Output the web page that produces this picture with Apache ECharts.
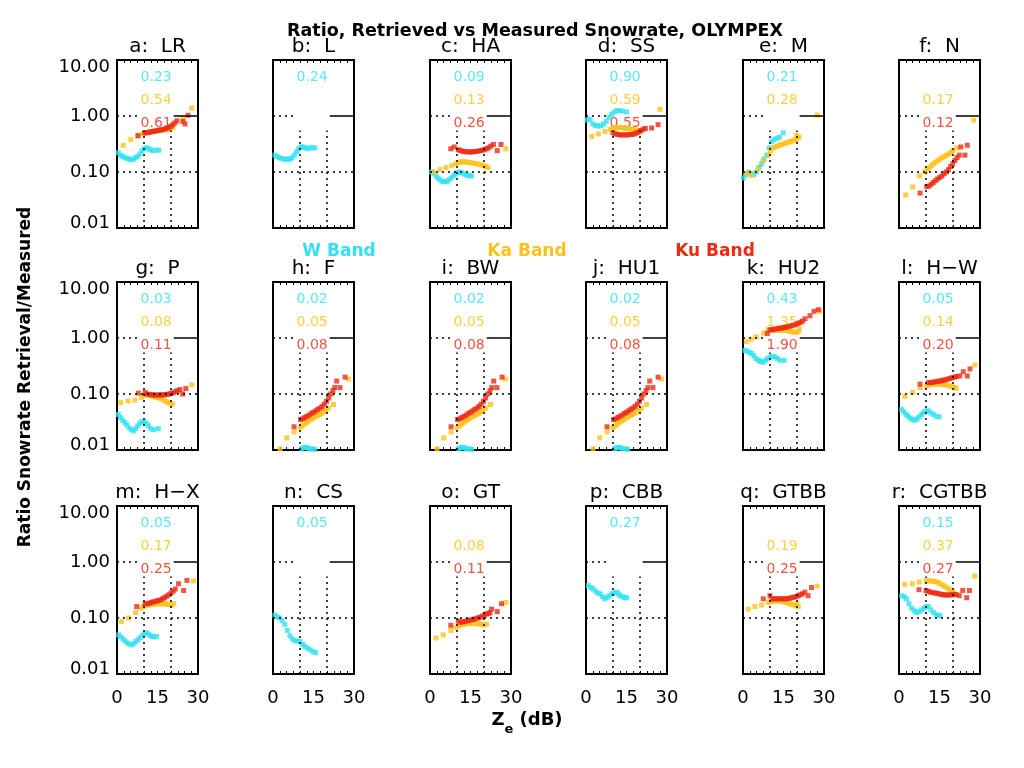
<!DOCTYPE html>
<html><head><meta charset="utf-8">
<script src="https://cdn.jsdelivr.net/npm/echarts@6/dist/echarts.min.js"></script>
<style>html,body{margin:0;padding:0;background:#fff}#c{width:1024px;height:768px}</style>
</head><body><div id="c"></div>
<script>
// ---------- DATA ----------
const panelTitles = ['a:  LR','b:  L','c:  HA','d:  SS','e:  M','f:  N',
  'g:  P','h:  F','i:  BW','j:  HU1','k:  HU2','l:  H\u2212W',
  'm:  H\u2212X','n:  CS','o:  GT','p:  CBB','q:  GTBB','r:  CGTBB'];
const statW  = ['0.23','0.24','0.09','0.90','0.21','',  '0.03','0.02','0.02','0.02','0.43','0.05','0.05','0.05','','0.27','','0.15'];
const statKa = ['0.54','','0.13','0.59','0.28','0.17','0.08','0.05','0.05','0.05','1.35','0.14','0.17','','0.08','','0.19','0.37'];
const statKu = ['0.61','','0.26','0.55','','0.12','0.11','0.08','0.08','0.08','1.90','0.20','0.25','','0.11','','0.25','0.27'];
const yTicks = [0.01, 0.1, 1, 10];
const xTickLabels = [0, 15, 30];

// W band (x = Ze dB, y = ratio)
const W_a = [[0.5,0.22],[1.3,0.2],[2.1,0.19],[2.9,0.18],[3.7,0.175],[4.5,0.17],[5.3,0.165],[6.1,0.17],[6.9,0.18],[7.7,0.19],[8.5,0.21],[9.3,0.24],[10.1,0.26],[10.9,0.27],[11.7,0.26],[12.5,0.25],[13.3,0.24],[14.5,0.245],[15.5,0.245]];
const W_b = [[0.7,0.2],[1.5,0.19],[2.3,0.18],[3.1,0.175],[3.9,0.17],[4.7,0.17],[5.5,0.17],[6.3,0.17],[7.1,0.18],[7.9,0.2],[8.7,0.23],[9.5,0.26],[10.3,0.28],[11.1,0.28],[11.9,0.27],[12.7,0.26],[13.5,0.27],[14.5,0.27],[15.5,0.27]];
const W_c = [[0.6,0.1],[1.4,0.095],[2.2,0.085],[3.0,0.078],[3.8,0.072],[4.6,0.068],[5.4,0.067],[6.2,0.068],[7.0,0.072],[7.8,0.078],[8.6,0.085],[9.4,0.092],[10.2,0.098],[11.0,0.1],[11.8,0.097],[12.6,0.092],[13.6,0.088],[14.5,0.086],[15.4,0.085]];
const W_d = [[0.5,0.85],[1.5,0.87],[2.5,0.72],[3.5,0.68],[4.5,0.66],[5.5,0.67],[6.5,0.72],[7.5,0.8],[8.5,0.95],[9.5,1.07],[10.5,1.18],[11.5,1.25],[12.5,1.25],[13.5,1.22],[15.1,1.18]];
const W_e = [[0.1,0.078],[1.0,0.09],[2.0,0.1],[3.0,0.095],[4.0,0.09],[5.0,0.1],[6.0,0.12],[6.9,0.14],[7.8,0.17],[8.8,0.2],[9.7,0.27],[10.6,0.35],[11.5,0.38],[12.5,0.4],[13.5,0.42],[14.9,0.5]];
const W_g = [[0.5,0.043],[1.3,0.038],[2.1,0.034],[2.9,0.031],[3.7,0.028],[4.5,0.025],[5.3,0.023],[6.1,0.022],[6.9,0.024],[7.7,0.027],[8.5,0.03],[9.3,0.032],[10.1,0.032],[10.9,0.03],[11.7,0.027],[12.5,0.024],[13.5,0.023],[15.3,0.024]];
const W_h = [[10.6,0.0105],[11.3,0.011],[12.0,0.0112],[12.7,0.011],[13.4,0.0105],[14.5,0.0105],[15.5,0.0103]];
const W_i = [[10.6,0.0105],[11.3,0.011],[12.0,0.0112],[12.7,0.011],[13.4,0.0105],[14.5,0.0105],[15.5,0.0103]];
const W_j = [[10.6,0.0105],[11.3,0.011],[12.0,0.0112],[12.7,0.011],[13.4,0.0105],[14.5,0.0105],[15.5,0.0103]];
const W_k = [[0.7,0.6],[1.5,0.58],[2.3,0.55],[3.2,0.53],[4.0,0.48],[4.8,0.43],[5.7,0.4],[6.5,0.38],[7.5,0.37],[8.3,0.4],[9.1,0.43],[10.0,0.46],[10.9,0.47],[11.8,0.46],[12.7,0.43],[13.7,0.4],[15.3,0.4]];
const W_l = [[1.0,0.053],[1.8,0.048],[2.6,0.043],[3.4,0.04],[4.2,0.037],[5.0,0.035],[5.9,0.034],[6.7,0.036],[7.5,0.039],[8.4,0.043],[9.2,0.047],[10.0,0.05],[10.9,0.05],[11.8,0.046],[12.8,0.043],[13.8,0.04],[14.9,0.039]];
const W_m = [[0.6,0.05],[1.4,0.046],[2.2,0.042],[3.0,0.039],[3.8,0.036],[4.6,0.034],[5.4,0.033],[6.2,0.035],[7.0,0.038],[7.8,0.041],[8.6,0.045],[9.6,0.05],[10.4,0.053],[11.2,0.054],[12.0,0.05],[12.8,0.047],[13.6,0.046],[14.6,0.047]];
const W_n = [[0.7,0.113],[1.5,0.105],[2.5,0.1],[3.4,0.09],[4.4,0.077],[5.3,0.06],[6.3,0.048],[7.2,0.042],[8.1,0.039],[9.0,0.039],[10.0,0.038],[10.9,0.034],[11.8,0.031],[12.8,0.029],[13.8,0.027],[14.9,0.025],[15.8,0.024]];
const W_p = [[0.9,0.38],[1.8,0.35],[2.7,0.33],[3.5,0.3],[4.4,0.28],[5.2,0.27],[6.1,0.24],[7.0,0.22],[7.8,0.23],[8.6,0.25],[9.5,0.27],[10.4,0.28],[11.4,0.29],[12.0,0.27],[12.6,0.25],[13.5,0.24],[14.3,0.23],[15.1,0.23]];
const W_r = [[1.0,0.25],[1.9,0.24],[2.8,0.22],[3.7,0.18],[4.7,0.15],[5.6,0.135],[6.5,0.125],[7.4,0.13],[8.4,0.14],[9.3,0.15],[10.1,0.16],[10.9,0.16],[11.8,0.14],[12.8,0.125],[13.8,0.115],[14.5,0.11],[15.3,0.11]];

// Ka band
const Ka_a = [[2.3,0.3],[5.1,0.38],[7.7,0.43],[9.5,0.48],[10.3,0.5],[11.1,0.51],[11.9,0.52],[12.7,0.53],[13.5,0.53],[14.3,0.54],[15.1,0.55],[15.9,0.55],[16.7,0.56],[17.5,0.57],[18.3,0.57],[19.1,0.58],[19.9,0.6],[20.7,0.62],[24.5,0.9],[27.7,1.38]];
const Ka_c = [[1.2,0.1],[3.7,0.11],[5.9,0.12],[8.0,0.13],[9.5,0.14],[10.3,0.145],[11.1,0.15],[11.9,0.152],[12.7,0.152],[13.5,0.15],[14.3,0.148],[15.1,0.146],[15.9,0.144],[16.7,0.142],[17.5,0.14],[18.3,0.137],[19.1,0.133],[19.9,0.13],[20.7,0.125],[21.5,0.12],[28.1,0.26]];
const Ka_d = [[2.1,0.43],[4.6,0.48],[7.0,0.53],[9.0,0.57],[9.8,0.6],[10.6,0.61],[11.4,0.62],[12.2,0.62],[13.0,0.62],[13.8,0.61],[14.6,0.6],[15.4,0.6],[16.2,0.59],[17.0,0.58],[17.8,0.57],[18.6,0.56],[19.4,0.55],[20.2,0.55],[27.4,1.32]];
const Ka_e = [[1.2,0.094],[3.1,0.087],[5.6,0.115],[7.4,0.16],[9.3,0.2],[10.2,0.24],[11.1,0.27],[11.9,0.28],[12.7,0.29],[13.5,0.3],[14.3,0.31],[15.1,0.32],[15.9,0.33],[16.7,0.34],[17.5,0.35],[18.3,0.36],[19.1,0.37],[19.9,0.38],[20.7,0.42],[19.8,0.45],[27.5,1.04]];
const Ka_f = [[2.5,0.039],[5.1,0.054],[7.5,0.085],[9.6,0.1],[10.4,0.11],[11.2,0.12],[12.0,0.13],[12.8,0.14],[13.6,0.15],[14.4,0.16],[15.2,0.17],[16.0,0.18],[16.8,0.19],[17.6,0.2],[18.4,0.21],[19.2,0.22],[19.9,0.24],[21.4,0.27],[27.7,0.84]];
const Ka_g = [[1.4,0.07],[4.1,0.075],[6.6,0.078],[9.1,0.087],[10.0,0.095],[10.8,0.096],[11.6,0.095],[12.4,0.093],[13.2,0.091],[14.0,0.089],[14.8,0.087],[15.6,0.085],[16.4,0.082],[17.2,0.078],[18.0,0.074],[18.8,0.071],[19.6,0.068],[20.5,0.066],[27.7,0.146]];
const Ka_h = [[2.6,0.0105],[5.1,0.0165],[7.8,0.021],[10.0,0.025],[10.8,0.027],[11.6,0.029],[12.4,0.031],[13.2,0.033],[14.0,0.035],[14.8,0.037],[15.6,0.039],[16.4,0.041],[17.2,0.043],[18.0,0.045],[18.8,0.048],[19.6,0.052],[20.5,0.056],[22.4,0.065],[27.9,0.185]];
const Ka_i = [[2.6,0.0105],[5.1,0.0165],[7.8,0.021],[10.0,0.025],[10.8,0.027],[11.6,0.029],[12.4,0.031],[13.2,0.033],[14.0,0.035],[14.8,0.037],[15.6,0.039],[16.4,0.041],[17.2,0.043],[18.0,0.045],[18.8,0.048],[19.6,0.052],[20.5,0.056],[22.4,0.065],[27.9,0.185]];
const Ka_j = [[2.6,0.0105],[5.1,0.0165],[7.8,0.021],[10.0,0.025],[10.8,0.027],[11.6,0.029],[12.4,0.031],[13.2,0.033],[14.0,0.035],[14.8,0.037],[15.6,0.039],[16.4,0.041],[17.2,0.043],[18.0,0.045],[18.8,0.048],[19.6,0.052],[20.5,0.056],[22.4,0.065],[27.9,0.185]];
const Ka_k = [[1.2,0.86],[3.0,0.95],[4.9,1.05],[7.7,1.22],[9.3,1.4],[10.1,1.38],[10.9,1.36],[11.7,1.36],[12.5,1.36],[13.3,1.37],[14.1,1.38],[14.9,1.38],[15.7,1.37],[16.5,1.35],[17.3,1.33],[18.1,1.3],[18.9,1.27],[19.7,1.25],[20.5,1.3],[20.9,1.44],[28.5,3.0]];
const Ka_l = [[2.2,0.091],[5.1,0.107],[7.8,0.13],[10.2,0.14],[11.0,0.145],[11.8,0.148],[12.6,0.15],[13.4,0.15],[14.2,0.15],[15.0,0.15],[15.8,0.149],[16.6,0.147],[17.4,0.145],[18.2,0.142],[19.0,0.138],[19.8,0.134],[20.6,0.13],[21.2,0.127],[28.1,0.33]];
const Ka_m = [[1.6,0.086],[4.3,0.1],[6.9,0.125],[9.0,0.15],[9.8,0.16],[10.6,0.165],[11.4,0.17],[12.2,0.173],[13.0,0.175],[13.8,0.177],[14.6,0.178],[15.4,0.18],[16.2,0.18],[17.0,0.18],[17.8,0.178],[18.6,0.176],[19.4,0.174],[20.2,0.17],[21.0,0.18],[28.3,0.46]];
const Ka_o = [[2.2,0.044],[4.9,0.05],[7.7,0.06],[9.6,0.067],[10.4,0.072],[11.2,0.075],[12.0,0.077],[12.8,0.078],[13.6,0.079],[14.4,0.08],[15.2,0.08],[16.0,0.08],[16.8,0.08],[17.6,0.079],[18.4,0.078],[19.2,0.077],[20.0,0.075],[21.0,0.078],[28.1,0.19]];
const Ka_q = [[2.0,0.144],[4.4,0.16],[6.9,0.17],[9.3,0.19],[10.1,0.195],[10.9,0.2],[11.7,0.2],[12.5,0.2],[13.3,0.2],[14.1,0.198],[14.9,0.195],[15.7,0.19],[16.5,0.185],[17.3,0.18],[18.1,0.175],[18.9,0.17],[19.7,0.165],[20.5,0.16],[20.0,0.18],[27.5,0.37]];
const Ka_r = [[2.1,0.4],[4.9,0.41],[7.5,0.44],[10.0,0.46],[10.8,0.46],[11.6,0.46],[12.4,0.455],[13.2,0.45],[14.0,0.44],[14.8,0.42],[15.6,0.4],[16.4,0.38],[17.2,0.36],[18.0,0.34],[18.8,0.32],[19.6,0.3],[19.9,0.29],[28.1,0.56]];

// Ku band
const Ku_a = [[7.8,0.45],[10.2,0.5],[11.0,0.5],[11.8,0.51],[12.6,0.52],[13.4,0.53],[14.2,0.54],[15.0,0.55],[15.8,0.56],[16.6,0.57],[17.4,0.58],[18.2,0.6],[19.0,0.62],[19.8,0.65],[20.6,0.7],[21.4,0.75],[22.2,0.82],[24.4,0.8],[25.2,0.72],[26.3,1.03]];
const Ku_c = [[7.7,0.26],[9.0,0.28],[10.5,0.25],[11.3,0.24],[12.1,0.235],[12.9,0.23],[13.7,0.23],[14.5,0.228],[15.3,0.228],[16.1,0.23],[16.9,0.232],[17.7,0.235],[18.5,0.24],[19.3,0.245],[20.1,0.25],[20.9,0.26],[21.7,0.27],[22.5,0.29],[23.5,0.31],[24.9,0.24],[26.3,0.31]];
const Ku_d = [[10.0,0.5],[10.8,0.48],[11.6,0.47],[12.4,0.46],[13.2,0.46],[14.0,0.46],[14.8,0.46],[15.6,0.46],[16.4,0.465],[17.2,0.47],[18.0,0.48],[18.8,0.5],[19.6,0.52],[20.4,0.55],[21.2,0.58],[22.0,0.6],[24.3,0.61],[26.7,0.7]];
const Ku_f = [[7.8,0.042],[10.3,0.055],[11.1,0.056],[11.9,0.06],[12.7,0.065],[13.5,0.07],[14.3,0.075],[15.1,0.08],[15.9,0.085],[16.7,0.093],[17.5,0.1],[18.3,0.11],[19.1,0.125],[19.9,0.14],[20.7,0.16],[21.5,0.18],[22.3,0.2],[22.9,0.28],[24.4,0.2],[25.3,0.3]];
const Ku_g = [[7.9,0.104],[10.4,0.107],[11.2,0.1],[12.0,0.098],[12.8,0.097],[13.6,0.096],[14.4,0.096],[15.2,0.096],[16.0,0.096],[16.8,0.097],[17.6,0.097],[18.4,0.098],[19.2,0.1],[20.0,0.102],[20.8,0.105],[21.6,0.11],[22.4,0.115],[23.3,0.12],[24.3,0.1],[25.5,0.125]];
const Ku_h = [[7.8,0.026],[10.2,0.035],[11.0,0.036],[11.8,0.038],[12.6,0.04],[13.4,0.042],[14.2,0.045],[15.0,0.047],[15.8,0.05],[16.6,0.053],[17.4,0.056],[18.2,0.06],[19.0,0.066],[19.8,0.074],[20.6,0.085],[21.4,0.1],[22.2,0.115],[22.9,0.13],[23.6,0.17],[24.8,0.13],[26.7,0.2]];
const Ku_i = [[7.8,0.026],[10.2,0.035],[11.0,0.036],[11.8,0.038],[12.6,0.04],[13.4,0.042],[14.2,0.045],[15.0,0.047],[15.8,0.05],[16.6,0.053],[17.4,0.056],[18.2,0.06],[19.0,0.066],[19.8,0.074],[20.6,0.085],[21.4,0.1],[22.2,0.115],[22.9,0.13],[23.6,0.17],[24.8,0.13],[26.7,0.2]];
const Ku_j = [[7.8,0.026],[10.2,0.035],[11.0,0.036],[11.8,0.038],[12.6,0.04],[13.4,0.042],[14.2,0.045],[15.0,0.047],[15.8,0.05],[16.6,0.053],[17.4,0.056],[18.2,0.06],[19.0,0.066],[19.8,0.074],[20.6,0.085],[21.4,0.1],[22.2,0.115],[22.9,0.13],[23.6,0.17],[24.8,0.13],[26.7,0.2]];
const Ku_k = [[9.0,1.2],[10.0,1.4],[10.8,1.42],[11.6,1.44],[12.4,1.46],[13.2,1.48],[14.0,1.5],[14.8,1.52],[15.6,1.55],[16.4,1.58],[17.2,1.62],[18.0,1.66],[18.8,1.7],[19.6,1.75],[20.4,1.82],[21.2,1.9],[22.0,2.0],[23.0,2.2],[24.8,2.5],[26.3,3.0],[27.9,3.2]];
const Ku_l = [[7.8,0.15],[10.9,0.16],[11.7,0.16],[12.5,0.162],[13.3,0.165],[14.1,0.167],[14.9,0.17],[15.7,0.173],[16.5,0.176],[17.3,0.18],[18.1,0.185],[18.9,0.19],[19.7,0.195],[20.5,0.2],[21.3,0.205],[22.5,0.21],[23.8,0.25],[25.3,0.21],[26.3,0.28]];
const Ku_m = [[7.3,0.16],[10.4,0.18],[11.2,0.18],[12.0,0.185],[12.8,0.19],[13.6,0.195],[14.4,0.2],[15.2,0.205],[16.0,0.21],[16.8,0.22],[17.6,0.23],[18.4,0.245],[19.2,0.26],[20.0,0.28],[20.8,0.3],[21.6,0.33],[22.8,0.41],[24.7,0.31],[25.9,0.47]];
const Ku_o = [[7.7,0.074],[10.5,0.088],[11.3,0.084],[12.1,0.085],[12.9,0.087],[13.7,0.089],[14.5,0.091],[15.3,0.093],[16.1,0.095],[16.9,0.097],[17.7,0.1],[18.5,0.103],[19.3,0.107],[20.1,0.112],[20.9,0.118],[21.6,0.12],[22.2,0.125],[22.8,0.144],[24.9,0.13],[26.5,0.18]];
const Ku_q = [[7.5,0.22],[10.0,0.25],[10.8,0.22],[11.6,0.22],[12.4,0.22],[13.2,0.22],[14.0,0.22],[14.8,0.22],[15.6,0.22],[16.4,0.222],[17.2,0.225],[18.0,0.23],[18.8,0.235],[19.6,0.24],[20.4,0.25],[21.2,0.26],[22.0,0.27],[22.9,0.29],[24.1,0.25],[25.4,0.35]];
const Ku_r = [[7.4,0.32],[10.0,0.31],[10.8,0.3],[11.6,0.29],[12.4,0.285],[13.2,0.28],[14.0,0.275],[14.8,0.27],[15.6,0.265],[16.4,0.26],[17.2,0.258],[18.0,0.257],[18.8,0.258],[19.6,0.26],[20.4,0.262],[21.2,0.265],[22.3,0.25],[23.6,0.31],[25.1,0.23],[26.1,0.31]];

const W_all  = [W_a,W_b,W_c,W_d,W_e,[], W_g,W_h,W_i,W_j,W_k,W_l, W_m,W_n,[],W_p,[],W_r];
const Ka_all = [Ka_a,[],Ka_c,Ka_d,Ka_e,Ka_f, Ka_g,Ka_h,Ka_i,Ka_j,Ka_k,Ka_l, Ka_m,[],Ka_o,[],Ka_q,Ka_r];
const Ku_all = [Ku_a,[],Ku_c,Ku_d,[],Ku_f, Ku_g,Ku_h,Ku_i,Ku_j,Ku_k,Ku_l, Ku_m,[],Ku_o,[],Ku_q,Ku_r];

// ---------- STYLE / LAYOUT ----------
const CW = '#33e1f0', CKA = '#fcc21b', CKU = '#ee2a14';
const colLeft = [117, 273, 430, 586, 743, 899];
const rowTop = [60, 282, 506];
const GW = 81, GH = 168;
const FONT = 'DejaVu Sans';

const grids = [], xAxes = [], yAxes = [], series = [], titles = [];
for (let i = 0; i < 18; i++) {
  const r = Math.floor(i / 6), c = i % 6;
  grids.push({left: colLeft[c], top: rowTop[r], width: GW, height: GH,
    show: true, borderColor: '#000', borderWidth: 2, backgroundColor: 'transparent'});
  const xBase = {gridIndex: i, type: 'value', min: 0, max: 30, interval: 2.5,
    axisLine: {show: false, onZero: false}, splitLine: {show: false},
    axisTick: {show: true, inside: true, length: 3, lineStyle: {color: '#000', width: 1}}};
  xAxes.push(Object.assign({}, xBase, {position: 'bottom',
    axisLabel: {show: r === 2, margin: 15, color: '#000', fontFamily: FONT, fontSize: 18,
      formatter: v => xTickLabels.indexOf(v) >= 0 ? String(v) : ''}}));
  xAxes.push(Object.assign({}, xBase, {position: 'top', axisLabel: {show: false}}));
  yAxes.push({gridIndex: i, type: 'log', logBase: 10, min: yTicks[0], max: yTicks[3],
    axisLine: {show: false}, splitLine: {show: false}, axisTick: {show: false},
    axisLabel: {show: c === 0, margin: 7, color: '#000', fontFamily: FONT, fontSize: 18,
      formatter: v => {
        const s = Number(v).toFixed(2);
        if (Math.abs(v - yTicks[3]) < 1e-9) return '{hi|' + s + '}';
        if (Math.abs(v - yTicks[0]) < 1e-12) return '{lo|' + s + '}';
        return s;
      },
      rich: {hi: {fontFamily: FONT, fontSize: 18, color: '#000', padding: [14, 0, 0, 0]},
             lo: {fontFamily: FONT, fontSize: 18, color: '#000', padding: [0, 0, 10, 0]}}}});
  titles.push({text: panelTitles[i], left: colLeft[c] + GW / 2, top: rowTop[r] - 23, textAlign: 'center', padding: 0,
    textStyle: {fontFamily: FONT, fontSize: 20, fontWeight: 'normal', color: '#000'}});

  const lblData = [];
  if (statW[i]) lblData.push({value: [14.5, 4.9], name: statW[i], label: {color: CW}});
  if (statKa[i]) lblData.push({value: [14.5, 1.87], name: statKa[i], label: {color: CKA}});
  if (statKu[i]) lblData.push({value: [14.5, 0.74], name: statKu[i], label: {color: CKU}});
  const dot = {type: [2, 4], color: '#000', width: 1.5};
  series.push({type: 'scatter', xAxisIndex: 2 * i, yAxisIndex: i, symbolSize: 0, silent: true,
    data: lblData, z: 1,
    label: {show: true, position: 'inside', formatter: p => p.name, fontFamily: FONT, fontSize: 14},
    markLine: {silent: true, symbol: 'none', label: {show: false}, animation: false,
      data: [
        [{coord: [0, 1], lineStyle: dot}, {coord: [8.5, 1]}],
        [{coord: [21, 1], lineStyle: {type: 'solid', color: '#000', width: 1.5}}, {coord: [30, 1]}],
        [{coord: [0, 0.1], lineStyle: dot}, {coord: [30, 0.1]}],
        [{coord: [10, 0.01], lineStyle: dot}, {coord: [10, 0.55]}],
        [{coord: [20, 0.01], lineStyle: dot}, {coord: [20, 0.55]}]
      ]}});
  [[W_all, CW], [Ka_all, CKA], [Ku_all, CKU]].forEach(([arr, col]) => {
    series.push({type: 'scatter', xAxisIndex: 2 * i, yAxisIndex: i, data: arr[i], z: 3,
      symbol: 'rect', symbolSize: 5, itemStyle: {color: col}, silent: true});
  });
}
titles.push({text: 'Ratio, Retrieved vs Measured Snowrate, OLYMPEX', left: 535, top: 22, textAlign: 'center', padding: 0,
  textStyle: {fontFamily: FONT, fontSize: 17.5, fontWeight: 'bold', color: '#000'}});
[['W Band', 339, CW], ['Ka Band', 527, CKA], ['Ku Band', 715, CKU]].forEach(([t, x, col]) => {
  titles.push({text: t, left: x, top: 243, textAlign: 'center', padding: 0,
    textStyle: {fontFamily: FONT, fontSize: 17, fontWeight: 'bold', color: col}});
});

const chart = echarts.init(document.getElementById('c'), null, {renderer: 'canvas'});
chart.setOption({
  animation: false,
  backgroundColor: '#fff',
  title: titles,
  grid: grids, xAxis: xAxes, yAxis: yAxes, series: series,
  graphic: [
    {type: 'text', x: 26, y: 377, rotation: Math.PI / 2,
      style: {text: 'Ratio Snowrate Retrieval/Measured', fill: '#000', font: 'bold 17px "DejaVu Sans"',
        textAlign: 'center', textVerticalAlign: 'middle'}},
    {type: 'text', x: 527, y: 720,
      style: {text: '{a|Z}{b|e}{a| (dB)}', textAlign: 'center', textVerticalAlign: 'middle',
        rich: {a: {fontFamily: FONT, fontSize: 18, fontWeight: 'bold', fill: '#000', color: '#000'},
               b: {fontFamily: FONT, fontSize: 13, fontWeight: 'bold', fill: '#000', color: '#000', padding: [20, 0, 0, 0]}}}}
  ]
});
</script></body></html>
